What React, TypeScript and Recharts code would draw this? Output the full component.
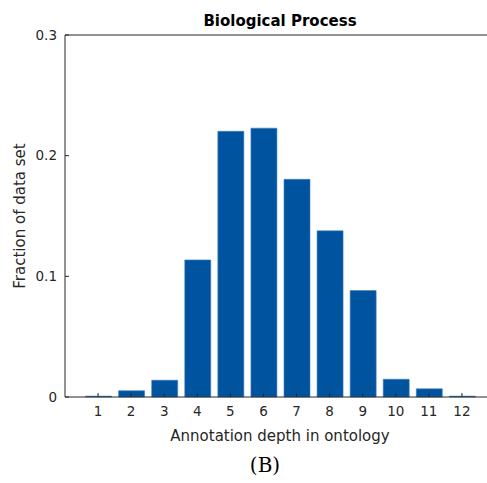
import React from "react";
import { BarChart, Bar, XAxis, YAxis } from "recharts";

const depths = [1, 2, 3, 4, 5, 6, 7, 8, 9, 10, 11, 12];
const fractions = [0.0007, 0.0052, 0.0139, 0.1136, 0.2202, 0.2228, 0.1804, 0.1377, 0.0882, 0.0147, 0.0068, 0.0007];
const yTicks = [0, 0.1, 0.2, 0.3];
const yTickLabels = ["0", "0.1", "0.2", "0.3"];

const data = depths.map((d, i) => ({ depth: d, fraction: fractions[i] }));

const FONT = "'DejaVu Sans', sans-serif";
const INK = "#262626";

export default function App() {
  return (
    <div style={{ position: "absolute", left: 0, top: 0, width: 487, height: 483, overflow: "hidden", background: "#fff" }}>
      <div style={{ position: "absolute", left: 80, width: 400, top: 12, textAlign: "center", fontFamily: FONT, fontWeight: "bold", fontSize: 15, color: "#000" }}>
        Biological Process
      </div>
      <BarChart
        width={510}
        height={483}
        data={data}
        margin={{ top: 30, right: 15, bottom: 46, left: 0 }}
        style={{ fontFamily: FONT }}
      >
        <XAxis
          xAxisId="top"
          orientation="top"
          type="number"
          dataKey="depth"
          domain={[0, 13]}
          ticks={depths}
          height={5}
          tick={false}
          tickSize={-4}
          stroke={INK}
          axisLine={{ stroke: INK }}
          tickLine={{ stroke: INK }}
        />
        <XAxis
          xAxisId="bottom"
          orientation="bottom"
          type="number"
          dataKey="depth"
          domain={[0, 13]}
          ticks={depths}
          interval={0}
          height={40}
          tickSize={-4}
          tickMargin={13}
          tick={{ fill: INK, fontSize: 13.5, fontFamily: FONT }}
          axisLine={{ stroke: INK }}
          tickLine={{ stroke: INK }}
          label={{ value: "Annotation depth in ontology", position: "insideBottom", offset: -4, fill: INK, fontSize: 15, fontFamily: FONT }}
        />
        <YAxis
          type="number"
          domain={[0, 0.3]}
          ticks={yTicks}
          interval={0}
          width={65}
          tickSize={-4}
          tickMargin={12}
          tickFormatter={(v: number) => yTickLabels[yTicks.indexOf(v)] ?? String(v)}
          tick={{ fill: INK, fontSize: 13.5, fontFamily: FONT }}
          axisLine={{ stroke: INK }}
          tickLine={{ stroke: INK }}
          label={{ value: "Fraction of data set", angle: -90, position: "insideLeft", offset: 20, style: { textAnchor: "middle" }, fill: INK, fontSize: 15, fontFamily: FONT }}
        />
        <Bar
          xAxisId="bottom"
          dataKey="fraction"
          fill="#00539F"
          stroke="#3f7fc0"
          strokeWidth={0.6}
          barSize={26}
          isAnimationActive={false}
        />
      </BarChart>
      <div style={{ position: "absolute", left: 215, width: 100, top: 453, textAlign: "center", fontFamily: "'DejaVu Serif', 'Liberation Serif', serif", fontSize: 20, color: "#000" }}>
        (B)
      </div>
    </div>
  );
}
